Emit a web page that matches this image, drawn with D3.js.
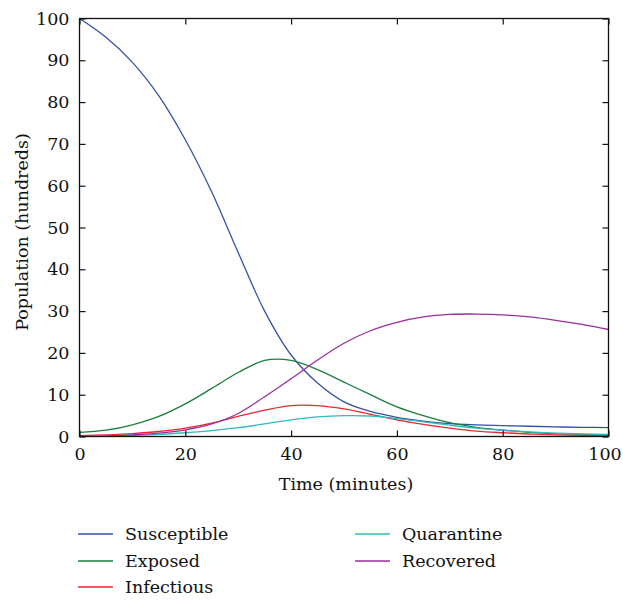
<!DOCTYPE html>
<html>
<head>
<meta charset="utf-8">
<script src="https://cdn.jsdelivr.net/npm/d3@7"></script>
<style>
  body { margin: 0; background: #fff; }
  text { font-family: "DejaVu Serif", "Liberation Serif", serif; fill: #111; }
</style>
</head>
<body>
<script>
// time axis (minutes) and population (hundreds)
var times = [0, 5, 10, 15, 20, 25, 30, 35, 40, 45, 50, 55, 60, 65, 70, 75, 80, 85, 90, 95, 100];
var susceptible = [100, 95.5, 89.5, 81.5, 71, 58.5, 44, 30, 19.5, 12.8, 8.3, 6, 4.6, 3.7, 3.1, 2.8, 2.6, 2.45, 2.3, 2.2, 2.1];
var exposed = [1, 1.5, 2.8, 4.8, 7.8, 11.5, 15.3, 18.2, 18.2, 16, 13, 10, 7.1, 5, 3.3, 2.2, 1.5, 1, 0.7, 0.5, 0.3];
var infectious = [0.2, 0.4, 0.7, 1.2, 2, 3.2, 4.8, 6.3, 7.4, 7.4, 6.6, 5.3, 4, 2.9, 2, 1.3, 0.9, 0.6, 0.4, 0.3, 0.2];
var quarantine = [0, 0.1, 0.3, 0.5, 0.9, 1.4, 2.1, 3, 4, 4.7, 5, 4.9, 4.3, 3.5, 2.7, 2, 1.5, 1.1, 0.8, 0.6, 0.5];
var recovered = [0, 0.1, 0.4, 0.8, 1.6, 3, 5.5, 9.5, 13.8, 18.3, 22.3, 25.3, 27.3, 28.6, 29.2, 29.3, 29.1, 28.6, 27.8, 26.8, 25.6];

var xTicks = [0, 20, 40, 60, 80, 100];
var yTicks = [0, 10, 20, 30, 40, 50, 60, 70, 80, 90, 100];

var series = [
  {name: "Susceptible", values: susceptible, color: "#3552a8"},
  {name: "Exposed", values: exposed, color: "#1b7d3a"},
  {name: "Infectious", values: infectious, color: "#e8282c"},
  {name: "Quarantine", values: quarantine, color: "#2fbcbc"},
  {name: "Recovered", values: recovered, color: "#9a2e9c"}
];

var width = 623, height = 601;
var pLeft = 79.5, pRight = 608.5, pTop = 18.5, pBottom = 436.5;
var fs = "17.5px";

var svg = d3.select("body").append("svg")
  .attr("width", width)
  .attr("height", height);

var x = d3.scaleLinear().domain([0, 100]).range([pLeft, pRight]);
var y = d3.scaleLinear().domain([0, 100]).range([pBottom, pTop]);

// curves, clipped to the plot box
svg.append("clipPath").attr("id", "clip")
  .append("rect").attr("x", pLeft).attr("y", pTop)
  .attr("width", pRight - pLeft).attr("height", pBottom - pTop);

var line = d3.line()
  .x(function(d) { return x(d[0]); })
  .y(function(d) { return y(Math.max(0, d[1])); })
  .curve(d3.curveCatmullRom.alpha(0.5));

svg.append("g").attr("clip-path", "url(#clip)")
  .selectAll("path")
  .data(series).enter()
  .append("path")
  .attr("fill", "none")
  .attr("stroke", function(s) { return s.color; })
  .attr("stroke-width", 1.3)
  .attr("d", function(s) { return line(d3.zip(times, s.values)); });

// axes, ticks pointing inward on all four sides
var tickLen = 6;
var xAxisG = svg.append("g").attr("transform", "translate(0," + pBottom + ")")
  .call(d3.axisBottom(x).tickValues(xTicks).tickSizeInner(-tickLen).tickSizeOuter(0).tickPadding(11));
svg.append("g").attr("transform", "translate(0," + pTop + ")")
  .call(d3.axisTop(x).tickValues(xTicks).tickSizeInner(-tickLen).tickSizeOuter(0).tickFormat(""));
svg.append("g").attr("transform", "translate(" + pLeft + ",0)")
  .call(d3.axisLeft(y).tickValues(yTicks).tickSizeInner(-tickLen).tickSizeOuter(0).tickPadding(10));
svg.append("g").attr("transform", "translate(" + pRight + ",0)")
  .call(d3.axisRight(y).tickValues(yTicks).tickSizeInner(-tickLen).tickSizeOuter(0).tickFormat(""));

svg.selectAll(".domain").remove();
svg.selectAll(".tick line").attr("stroke", "#111").attr("stroke-width", 1.2);
svg.selectAll(".tick text").style("font-size", fs).attr("fill", "#111");
// keep the last x label inside the window
xAxisG.selectAll(".tick text").filter(function(d) { return d === 100; }).attr("dx", -4);

svg.append("rect")
  .attr("x", pLeft).attr("y", pTop)
  .attr("width", pRight - pLeft).attr("height", pBottom - pTop)
  .attr("fill", "none").attr("stroke", "#111").attr("stroke-width", 1.3);

// axis titles
svg.append("text")
  .attr("x", 346).attr("y", 490)
  .attr("text-anchor", "middle")
  .style("font-size", fs)
  .text("Time (minutes)");

svg.append("text")
  .attr("transform", "translate(28,232) rotate(-90)")
  .attr("text-anchor", "middle")
  .style("font-size", fs)
  .text("Population (hundreds)");

// legend, two columns
var legendPos = [[78, 534], [78, 561], [78, 587], [355, 534], [355, 561]];
var legend = svg.selectAll(".legend")
  .data(series).enter()
  .append("g")
  .attr("transform", function(s, i) { return "translate(" + legendPos[i][0] + "," + legendPos[i][1] + ")"; });
legend.append("line")
  .attr("x1", 0).attr("x2", 35)
  .attr("stroke", function(s) { return s.color; })
  .attr("stroke-width", 1.5);
legend.append("text")
  .attr("x", 47).attr("y", 6)
  .style("font-size", fs)
  .text(function(s) { return s.name; });
</script>
</body>
</html>
